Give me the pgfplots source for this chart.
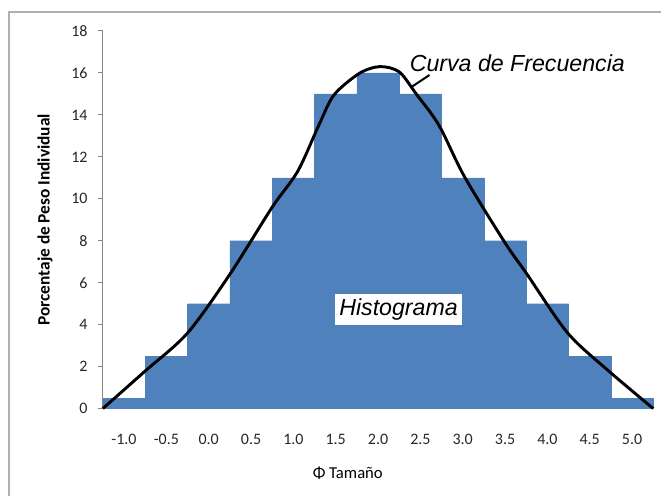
\documentclass[border=0pt]{standalone}
\usepackage{fontspec}
\setmainfont{Carlito}
\newfontfamily\arialfont{Liberation Sans}
\usepackage{pgfplots}
\pgfplotsset{compat=1.18}
\definecolor{barblue}{HTML}{4F81BD}
\definecolor{axgray}{HTML}{868686}
\definecolor{framegray}{HTML}{B0B0B0}

\begin{document}
\begin{tikzpicture}
\begin{axis}[
    scale only axis,
    width=413.25pt, height=283.5pt,
    xmin=-1.25, xmax=5.25, ymin=0, ymax=18,
    axis x line*=bottom, axis y line*=left,
    axis line style={axgray, line width=0.8pt, -},
    xtick={-1,-0.5,0,0.5,1,1.5,2,2.5,3,3.5,4,4.5,5},
    xticklabels={-1.0,-0.5,0.0,0.5,1.0,1.5,2.0,2.5,3.0,3.5,4.0,4.5,5.0},
    ytick={0,2,4,6,8,10,12,14,16,18},
    x tick style={draw=none},
    y tick style={axgray, line width=0.8pt},
    tick align=outside, major tick length=4pt,
    ticklabel style={font=\fontsize{12}{14}\selectfont, text=black!85},
    y tick label style={/pgf/number format/assume math mode=true, xshift=-4pt},
    x tick label style={yshift=-12pt},
    xlabel={\fontsize{12.5}{15}\selectfont Φ Tamaño},
    xlabel style={at={(axis description cs:0.445,0)}, anchor=center, yshift=-48.75pt},
    ylabel={\fontsize{13}{15}\selectfont\bfseries Porcentaje de Peso Individual},
    ylabel style={at={(axis description cs:0,0.5)}, anchor=center, yshift=43.5pt},
    clip=false,
]
\addplot[ybar, bar width=0.5, fill=barblue, draw=barblue, line width=0.1pt]
  coordinates {(-1,0.5) (-0.5,2.5) (0,5) (0.5,8) (1,11) (1.5,15) (2,16)
               (2.5,15) (3,11) (3.5,8) (4,5) (4.5,2.5) (5,0.5)};
\addplot[black, line width=2.2pt, smooth]
  coordinates {(-1.25,0) (-0.755,1.77) (-0.25,3.6) (0.25,6.4) (0.75,9.6)
               (1.05,11.3) (1.3,13.5) (1.48,14.95) (1.78,15.98)
               (2.02,16.3) (2.25,16.05) (2.45,15.0) (2.72,13.5) (3.02,11.06)
               (3.5,7.9) (3.75,6.46) (4.24,3.6) (4.73,1.77) (5.25,0)};
\draw[black, line width=1.5pt] (axis cs:2.607,15.9) -- (axis cs:2.392,15.32);
\node[anchor=west, inner sep=0pt] at (axis cs:2.372,16.48)
  {\arialfont\itshape\fontsize{17.4}{20}\selectfont Curva de Frecuencia};
\node[fill=white, inner xsep=3.5pt, minimum height=22.5pt, anchor=center] at (axis cs:2.242,4.71)
  {\arialfont\itshape\fontsize{17.4}{20}\selectfont Histograma};
\end{axis}
\draw[framegray, line width=1.2pt] (-70.5pt,-66pt) -- (-70.5pt,297.75pt) -- (419.25pt,297.75pt);
\path[use as bounding box] (-77.25pt,-66pt) rectangle (419.25pt,306.75pt);
\end{tikzpicture}
\end{document}
